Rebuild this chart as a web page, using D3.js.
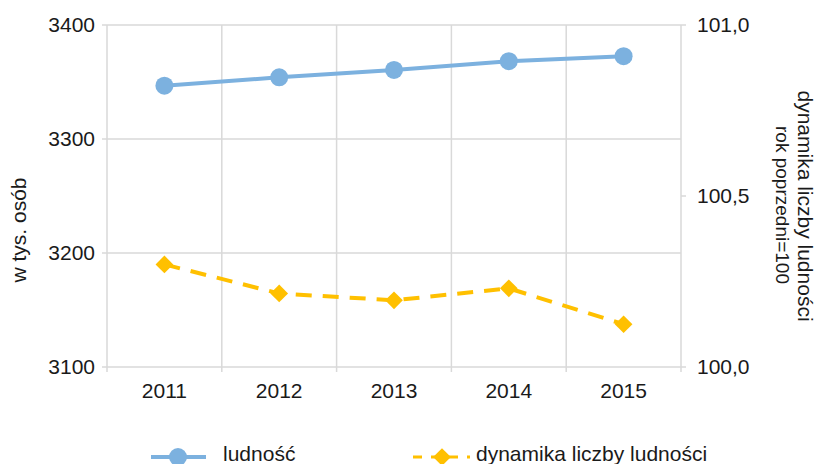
<!DOCTYPE html>
<html>
<head>
<meta charset="utf-8">
<script src="https://cdn.jsdelivr.net/npm/d3@7"></script>
<style>
  body { margin: 0; background: #fff; }
  svg text { font-family: "Liberation Sans", Arial, sans-serif; fill: #1a1a1a; }
</style>
</head>
<body>
<svg width="816" height="464"></svg>
<script>
var years = ["2011", "2012", "2013", "2014", "2015"];
var ludnosc = [3346.8, 3354.1, 3360.6, 3368.3, 3372.6];
var dynamika = [100.30, 100.215, 100.195, 100.23, 100.125];
var leftTicks = [3100, 3200, 3300, 3400];
var rightTicks = [100.0, 100.5, 101.0];

function main() {
    var svg = d3.select("svg");
    var left = 107, right = 681, top = 25, bottom = 367;
    var grid = "#d9d9d9", blue = "#7cb1df", yellow = "#ffc000";

    var x = d3.scaleBand().domain(years).range([left, right]).padding(0);
    var yL = d3.scaleLinear().domain([3100, 3400]).range([bottom, top]);
    var yR = d3.scaleLinear().domain([100, 101]).range([bottom, top]);
    var fmt = function(d) { return d3.format(".1f")(d).replace(".", ","); };

    // horizontal grid
    svg.append("g").selectAll("line").data(leftTicks).enter().append("line")
        .attr("x1", left - 5).attr("x2", right)
        .attr("y1", function(d) { return yL(d); }).attr("y2", function(d) { return yL(d); })
        .attr("stroke", grid).attr("stroke-width", 1.5);
    // right axis ticks
    svg.append("g").selectAll("line").data(rightTicks).enter().append("line")
        .attr("x1", right).attr("x2", right + 5)
        .attr("y1", function(d) { return yR(d); }).attr("y2", function(d) { return yR(d); })
        .attr("stroke", grid).attr("stroke-width", 1.5);
    // vertical grid at band edges
    var edges = years.map(function(d) { return x(d); }).concat([x(years[years.length - 1]) + x.bandwidth()]);
    svg.append("g").selectAll("line").data(edges).enter().append("line")
        .attr("x1", function(d) { return d; }).attr("x2", function(d) { return d; })
        .attr("y1", top).attr("y2", bottom + 5)
        .attr("stroke", grid).attr("stroke-width", 1.5);

    // tick labels
    svg.append("g").selectAll("text").data(leftTicks).enter().append("text")
        .attr("x", 95).attr("y", function(d) { return yL(d); })
        .attr("dy", "0.35em").attr("text-anchor", "end")
        .style("font-size", "21px").text(function(d) { return d; });
    svg.append("g").selectAll("text").data(rightTicks).enter().append("text")
        .attr("x", 697).attr("y", function(d) { return yR(d); })
        .attr("dy", "0.35em").attr("text-anchor", "start")
        .style("font-size", "21px").text(fmt);
    svg.append("g").selectAll("text").data(years).enter().append("text")
        .attr("x", function(d) { return x(d) + x.bandwidth() / 2; }).attr("y", 398)
        .attr("text-anchor", "middle")
        .style("font-size", "21px").text(function(d) { return d; });

    // axis titles
    svg.append("text")
        .attr("transform", "translate(26,230) rotate(-90)")
        .attr("text-anchor", "middle").style("font-size", "21px")
        .text("w tys. osób");
    svg.append("text")
        .attr("transform", "translate(798,206) rotate(90)")
        .attr("text-anchor", "middle").style("font-size", "21px")
        .text("dynamika liczby ludności");
    svg.append("text")
        .attr("transform", "translate(776,205) rotate(90)")
        .attr("text-anchor", "middle").style("font-size", "19px")
        .text("rok poprzedni=100");

    var cx = function(d, i) { return x(years[i]) + x.bandwidth() / 2; };

    // ludnosc line
    var lineL = d3.line().x(function(d, i) { return cx(d, i); }).y(function(d) { return yL(d); });
    svg.append("path").datum(ludnosc).attr("d", lineL)
        .attr("fill", "none").attr("stroke", blue).attr("stroke-width", 4);
    svg.append("g").selectAll("circle").data(ludnosc).enter().append("circle")
        .attr("cx", cx).attr("cy", function(d) { return yL(d); })
        .attr("r", 9).attr("fill", blue);

    // dynamika line
    var lineR = d3.line().x(function(d, i) { return cx(d, i); }).y(function(d) { return yR(d); });
    svg.append("path").datum(dynamika).attr("d", lineR)
        .attr("fill", "none").attr("stroke", yellow).attr("stroke-width", 4)
        .attr("stroke-dasharray", "16,11");
    var diamond = d3.symbol().type(d3.symbolDiamond2).size(200);
    svg.append("g").selectAll("path").data(dynamika).enter().append("path")
        .attr("d", diamond)
        .attr("transform", function(d, i) { return "translate(" + cx(d, i) + "," + yR(d) + ")"; })
        .attr("fill", yellow);

    // legend
    var lg = svg.append("g");
    lg.append("line").attr("x1", 151).attr("x2", 206).attr("y1", 457).attr("y2", 457)
        .attr("stroke", blue).attr("stroke-width", 4);
    lg.append("circle").attr("cx", 178).attr("cy", 457).attr("r", 9).attr("fill", blue);
    lg.append("text").attr("x", 223).attr("y", 461).style("font-size", "21px").text("ludność");
    lg.append("line").attr("x1", 413).attr("x2", 470).attr("y1", 457).attr("y2", 457)
        .attr("stroke", yellow).attr("stroke-width", 3).attr("stroke-dasharray", "9,9");
    lg.append("path").attr("d", diamond).attr("transform", "translate(442,457)").attr("fill", yellow);
    lg.append("text").attr("x", 476).attr("y", 461).style("font-size", "21px").text("dynamika liczby ludności");
}
main();
</script>
</body>
</html>
